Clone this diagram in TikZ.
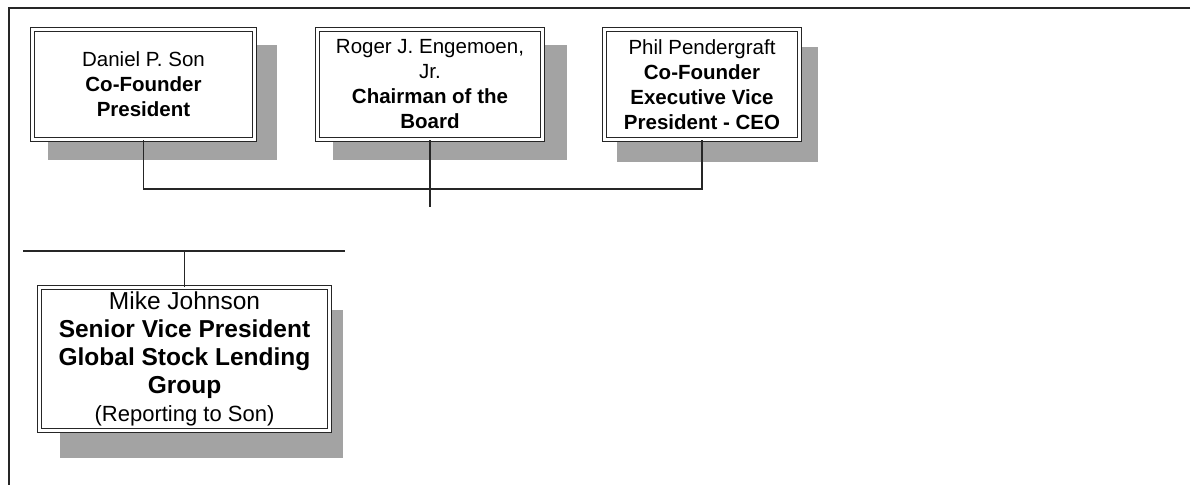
\documentclass[tikz,border=0pt]{standalone}
\usepackage{fontspec}
\setmainfont{Liberation Sans}
\begin{document}
\begin{tikzpicture}[x=1pt,y=-1pt,
  person/.style={draw=black!85, line width=1pt, double=white, double distance=3pt,
    fill=white, align=center, inner sep=0pt, font=\fontsize{20.5}{25}\selectfont},
  shade/.style={fill=black!36, draw=none},
  link/.style={draw=black!85, line width=1.3pt},
  frame/.style={draw=black!85, line width=1.2pt}]
\useasboundingbox (0,0) rectangle (1198,487);

% outer frame (top and left edges only)
\coordinate (fTL) at (9,8);
\coordinate (fTR) at (1190,8);
\coordinate (fBL) at (9,485);
\draw[frame] (fTR) -- (fTL) -- (fBL);

% drop shadows
\fill[shade] (48,45) rectangle (277,160);
\fill[shade] (333,45) rectangle (567,160);
\fill[shade] (617,47) rectangle (818,162);
\fill[shade] (60,310) rectangle (343,458);

% top row
\node[person, minimum width=222pt, minimum height=110pt] (dan) at (143.5,84.5)
  {Daniel P. Son\\ \textbf{Co-Founder}\\ \textbf{President}};
\node[person, minimum width=225pt, minimum height=110pt] (rog) at (430,84.5)
  {Roger J. Engemoen,\\ Jr.\\ \textbf{Chairman of the}\\ \textbf{Board}};
\node[person, minimum width=195pt, minimum height=110pt] (phil) at (702,84.5)
  {Phil Pendergraft\\ \textbf{Co-Founder}\\ \textbf{Executive Vice}\\ \textbf{President - CEO}};

% bus joining the top row
\coordinate (busL) at (143.5,189);
\coordinate (busR) at (702,189);
\coordinate (rogEnd) at (430,207);
\draw[link] (dan.south) -- (busL) -- (busR) -- (phil.south);
\draw[link] (rog.south) -- (rogEnd);

% second level
\node[person, minimum width=290pt, minimum height=143pt, font=\fontsize{24.5}{28}\selectfont]
  (mike) at (184.5,359)
  {Mike Johnson\\ \textbf{Senior Vice President}\\ \textbf{Global Stock Lending}\\
   \textbf{Group}\\ {\fontsize{22}{25}\selectfont (Reporting to Son)}};
\coordinate (barL) at (23,251);
\coordinate (barR) at (345,251);
\draw[link] (barL) -- (barR);
\draw[link] (mike.north) -- (mike.north |- barL);
\end{tikzpicture}
\end{document}
